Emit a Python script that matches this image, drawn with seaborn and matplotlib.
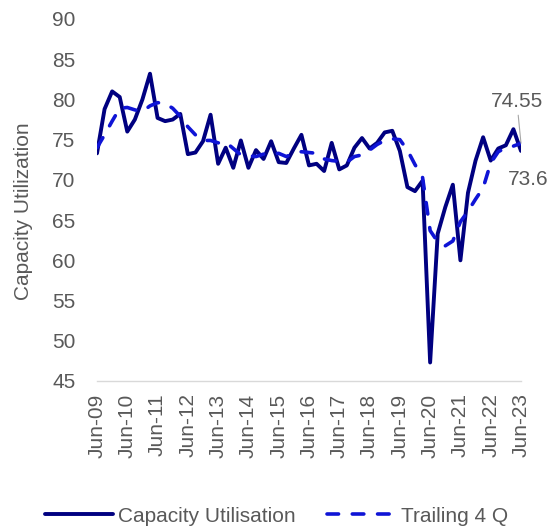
import numpy as np
import pandas as pd
import matplotlib
matplotlib.use("Agg")
import matplotlib.pyplot as plt
import seaborn as sns

# quarterly capacity utilisation, Jun-09 .. Jun-23
quarters = pd.date_range("2009-06-30", periods=57, freq="QE").strftime("%b-%y").tolist()
capacity = [73.3, 78.8, 81.0, 80.3, 76.0, 77.5, 80.0, 83.2, 77.7, 77.3,
            77.5, 78.2, 73.2, 73.4, 74.8, 78.1, 72.0, 74.0, 71.5, 74.9,
            71.5, 73.7, 72.6, 74.8, 72.2, 72.1, 73.9, 75.6, 71.8, 72.0,
            71.1, 74.6, 71.3, 71.8, 74.0, 75.2, 73.9, 74.6, 75.9, 76.1,
            73.6, 69.1, 68.6, 69.9, 47.3, 63.3, 66.6, 69.4, 60.0, 68.4,
            72.4, 75.3, 72.4, 73.9, 74.3, 76.3, 73.6]
trailing = [74.0, 75.6, 77.3, 78.9, 79.0, 78.7, 78.5, 79.2, 79.6, 79.5,
            78.9, 77.9, 76.6, 75.6, 74.9, 74.9, 74.6, 74.7, 73.9, 73.1,
            73.0, 72.9, 73.2, 73.2, 73.3, 72.9, 73.3, 73.5, 73.4, 73.3,
            72.6, 72.4, 72.3, 72.2, 72.9, 73.1, 73.7, 74.4, 74.9, 75.1,
            75.0, 73.7, 71.9, 70.3, 63.7, 62.3, 61.8, 62.4, 64.8, 66.1,
            67.6, 69.0, 72.1, 73.5, 74.0, 74.2, 74.55]
yticks = [45, 50, 55, 60, 65, 70, 75, 80, 85, 90]

df = pd.DataFrame({"q": np.arange(len(quarters)), "cap": capacity, "trail": trailing})

sns.set_theme(style="white")
plt.rcParams["font.family"] = ["Liberation Sans", "DejaVu Sans"]
txt = "#595959"
fs = 15

fig = plt.figure(figsize=(5.53, 5.26), dpi=100)
ax = fig.add_axes([0.1754, 0.2757, 0.7667, 0.6882])

sns.lineplot(data=df, x="q", y="cap", ax=ax, color="#000080", lw=2.8,
             label="Capacity Utilisation")
sns.lineplot(data=df, x="q", y="trail", ax=ax, color="#0F14D6", lw=2.6,
             dashes=False, label="Trailing 4 Q")
ax.lines[1].set_dashes([3.2, 3.8])
ax.lines[1].set_dash_capstyle("round")
ax.lines[0].set_solid_capstyle("round")

ax.set_xlim(0, len(quarters) - 1)
ax.set_ylim(45, 90)
ax.set_yticks(yticks)
ax.set_xticks(df["q"][::4])
ax.set_xticklabels(quarters[::4], rotation=90)
ax.tick_params(axis="both", length=0, labelsize=fs, colors=txt)
ax.tick_params(axis="y", pad=15.5)
ax.tick_params(axis="x", pad=9)
for s in ["top", "right", "left"]:
    ax.spines[s].set_visible(False)
ax.spines["bottom"].set_color("#d9d9d9")
ax.spines["bottom"].set_linewidth(1.0)

ax.set_xlabel("")
ax.set_ylabel("Capacity Utilization", fontsize=fs, color=txt)
ax.yaxis.set_label_coords(-0.152, 0.468)

# end labels
last = len(quarters) - 1
ax.annotate(f"{trailing[-1]:.2f}", xy=(last, trailing[-1]), xytext=(55.45, 79.8),
            ha="center", va="center", fontsize=fs, color=txt,
            arrowprops=dict(arrowstyle="-", color="#a6a6a6", lw=0.8, shrinkA=1, shrinkB=0),
            annotation_clip=False)
ax.text(56.95, 70.1, f"{capacity[-1]:.1f}", ha="center", va="center",
        fontsize=fs, color=txt)

ax.get_legend().remove()
h, l = ax.get_legend_handles_labels()
leg = fig.legend(h, l, loc="center", bbox_to_anchor=(0.5, 0.019), ncol=2,
                 frameon=False, fontsize=fs, handlelength=3.3, handletextpad=0.25,
                 columnspacing=1.5, borderpad=0)
for t in leg.get_texts():
    t.set_color(txt)

fig.savefig("out.png", dpi=100)
